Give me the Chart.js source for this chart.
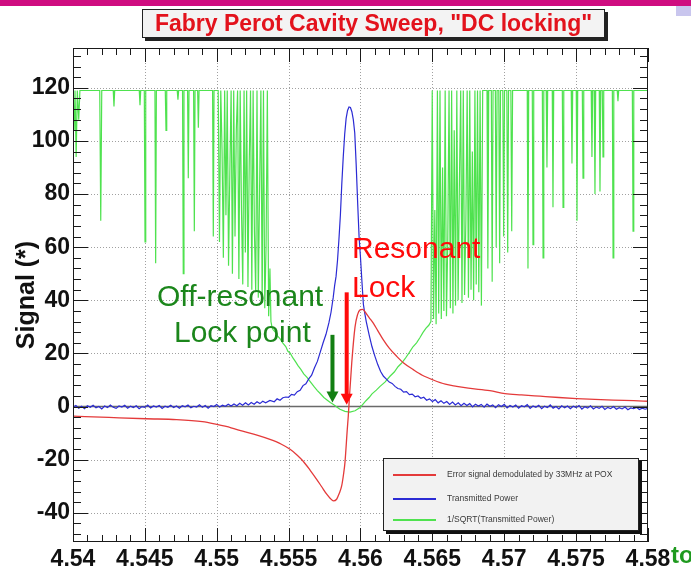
<!DOCTYPE html>
<html lang="en">
<head>
<meta charset="UTF-8">
<title>Fabry Perot Cavity Sweep, "DC locking"</title>
<script src="https://cdn.jsdelivr.net/npm/chart.js"></script>
<style>
  body { margin: 0; background: #fff; font-family: 'Liberation Sans', Arial, sans-serif; }
  .page { position: relative; width: 691px; height: 570px; overflow: hidden; }
  canvas { position: absolute; left: 0; top: 0; }
  .topbar { position: absolute; left: 0; top: 0; width: 691px; height: 6px; background: #cf0d80; }
  .corner { position: absolute; left: 676px; top: 6px; width: 15px; height: 10px; background: #c9c6ee; }
  .title-box {
    position: absolute; left: 142px; top: 9px; width: 461px; height: 27px;
    background: #f3f3f3; border: 1px solid #222; box-shadow: 3px 3px 0 #222;
    color: #e3121c; font-weight: bold; font-size: 23px; line-height: 27px; text-align: center;
    white-space: nowrap;
  }
  .legend {
    position: absolute; left: 383px; top: 458px; width: 254px; height: 71px;
    background: #f2f2f2; border: 1px solid #222; box-shadow: 3px 3px 0 #111;
  }
  .legend .swatch { position: absolute; left: 9px; width: 43px; height: 1.5px; }
  .legend .txt { position: absolute; left: 63px; font-size: 8.5px; line-height: 10px; color: #3a3a3a; white-space: nowrap; }
  .note { position: absolute; font-size: 30px; line-height: 30px; white-space: nowrap; }
  .green { color: #1b861b; }
  .red { color: #ff0a0a; }
  .tail { position: absolute; left: 671px; top: 541px; font-size: 24px; font-weight: bold; color: #1f9a1f; }
</style>
</head>
<body>
<div class="page">
  <canvas id="sweep" width="691" height="570"></canvas>
  <div class="topbar"></div>
  <div class="corner"></div>
  <div class="title-box">Fabry Perot Cavity Sweep, "DC locking"</div>

  <div class="note green" style="left:157px; top:281px;">Off-resonant</div>
  <div class="note green" style="left:174px; top:317px;">Lock point</div>
  <div class="note red" style="left:352px; top:233px;">Resonant</div>
  <div class="note red" style="left:352px; top:272px;">Lock</div>

  <div class="legend" id="legend"></div>
  <div class="tail">to</div>
</div>

<script>
  const xTicks = [4.54, 4.545, 4.55, 4.555, 4.56, 4.565, 4.57, 4.575, 4.58];
  const yTicks = [-40, -20, 0, 20, 40, 60, 80, 100, 120];

  // Error signal (red)
  const errX = [4.5400, 4.5425, 4.5451, 4.5472, 4.5490, 4.5500, 4.5510, 4.5518, 4.5528, 4.5537,
    4.5545, 4.5551, 4.5556, 4.5560, 4.5565, 4.55695, 4.5573, 4.55765, 4.5579, 4.55811,
    4.55834, 4.5585, 4.55869, 4.55882, 4.55892, 4.55908, 4.55915, 4.55922, 4.55939, 4.55962,
    4.55979, 4.55997, 4.56015, 4.56031, 4.5606, 4.56089, 4.5612, 4.56159, 4.5620, 4.56252,
    4.5630, 4.56367, 4.5643, 4.56506, 4.5659, 4.56669, 4.5675, 4.5690, 4.57005, 4.5712,
    4.57249, 4.5738, 4.57504, 4.5763, 4.57757, 4.5790, 4.5800];
  const errY = [-3.6, -4.1, -4.6, -4.9, -5.7, -6.75, -8.0, -9.3, -10.8, -12.4,
    -14.2, -16.1, -18.3, -20.5, -24.0, -27.4, -30.2, -33.0, -34.6, -35.5,
    -34.9, -33.0, -29.9, -25.5, -21.0, -8.6, -3.6, 2.6, 16.4, 30.0,
    34.5, 36.4, 36.6, 35.7, 33.5, 31.4, 28.6, 25.1, 22.0, 18.9,
    16.4, 13.9, 11.8, 10.0, 8.4, 7.6, 6.9, 6.0, 4.9, 4.4,
    3.9, 3.4, 3.0, 2.7, 2.4, 2.2, 2.0];

  // Transmitted power (blue)
  const powX = [4.5400, 4.5402, 4.5404, 4.5406, 4.5408, 4.5410, 4.5412, 4.5414, 4.5416, 4.5418,
    4.5420, 4.5422, 4.5424, 4.5426, 4.5428, 4.5430, 4.5432, 4.5434, 4.5436, 4.5438,
    4.5440, 4.5442, 4.5444, 4.5446, 4.5448, 4.5450, 4.5452, 4.5454, 4.5456, 4.5458,
    4.5460, 4.5462, 4.5464, 4.5466, 4.5468, 4.5470, 4.5472, 4.5474, 4.5476, 4.5478,
    4.5480, 4.5482, 4.5484, 4.5486, 4.5488, 4.5490, 4.5492, 4.5494, 4.5496, 4.5498,
    4.5500, 4.5502, 4.5504, 4.5506, 4.5508, 4.5510, 4.5512, 4.5514, 4.5516, 4.5518,
    4.5520, 4.5522, 4.5524, 4.5526, 4.5528, 4.5530, 4.5532, 4.5534, 4.5537, 4.5540,
    4.5542, 4.5544, 4.5546, 4.5548, 4.5550, 4.5552, 4.5554, 4.5556, 4.5558, 4.5560,
    4.5562, 4.5564, 4.5566, 4.5568, 4.5570, 4.5572, 4.5574, 4.5576, 4.5578, 4.55795,
    4.5581, 4.5582, 4.5583, 4.5584, 4.5585, 4.5586, 4.5587, 4.5588, 4.5589, 4.5590,
    4.5591, 4.5592, 4.5593, 4.5594, 4.5595, 4.5596, 4.5597, 4.5598, 4.5599, 4.5600,
    4.5601, 4.5602, 4.5603, 4.5604, 4.5606, 4.5608, 4.5610, 4.5612, 4.5614, 4.5616,
    4.5618, 4.5620, 4.5622, 4.5624, 4.5626, 4.5628, 4.5630, 4.5632, 4.5634, 4.5636,
    4.5638, 4.5640, 4.5642, 4.5644, 4.5646, 4.5648, 4.5650, 4.5652, 4.5654, 4.5656,
    4.5658, 4.5660, 4.5662, 4.5664, 4.5666, 4.5668, 4.5670, 4.5672, 4.5674, 4.5676,
    4.5678, 4.5680, 4.5682, 4.5684, 4.5686, 4.5688, 4.5690, 4.5692, 4.5694, 4.5696,
    4.5698, 4.5700, 4.5702, 4.5704, 4.5706, 4.5708, 4.5710, 4.5712, 4.5714, 4.5716,
    4.5718, 4.5720, 4.5722, 4.5724, 4.5726, 4.5728, 4.5730, 4.5732, 4.5734, 4.5736,
    4.5738, 4.5740, 4.5742, 4.5744, 4.5746, 4.5748, 4.5750, 4.5752, 4.5754, 4.5756,
    4.5758, 4.5760, 4.5762, 4.5764, 4.5766, 4.5768, 4.5770, 4.5772, 4.5774, 4.5776,
    4.5778, 4.5780, 4.5782, 4.5784, 4.5786, 4.5788, 4.5790, 4.5792, 4.5794, 4.5796,
    4.5798, 4.5800];
  const powY = [-0.2, 0.4, -0.6, 0.1, -0.8, 0.3, -0.3, 0.5, -0.5, 0.0,
    -0.9, 0.2, -0.4, 0.6, -0.3, -0.7, 0.2, -0.2, 0.5, -0.6,
    0.1, -0.4, 0.3, -0.8, 0.0, -0.3, 0.6, -0.5, 0.2, -0.2,
    0.4, -0.7, 0.1, -0.3, 0.5, -0.4, 0.2, -0.6, 0.3, -0.1,
    0.6, -0.5, 0.1, -0.2, 0.7, -0.3, 0.4, -0.6, 0.3, 0.0,
    0.8, -0.2, 0.5, 0.1, 0.9, 0.2, 1.0, 0.3, 1.2, 0.5,
    1.4, 0.6, 1.5, 0.9, 1.8, 1.1, 2.0, 1.4, 2.3, 1.8,
    2.9, 2.4, 3.3, 3.6, 3.5, 4.6, 4.3, 5.6, 6.1, 7.9,
    8.6, 10.4, 11.8, 14.6, 17.0, 20.5, 24.0, 27.2, 31.5, 35.5,
    41.0, 45.5, 49.0, 55.0, 63.0, 72.0, 84.0, 94.0, 102.5, 108.5,
    111.5, 112.8, 112.6, 111.0, 108.0, 103.0, 91.0, 77.0, 64.0, 56.0,
    47.0, 38.5, 35.0, 32.0, 27.0, 22.5, 19.0, 15.8, 13.2, 11.4,
    10.3, 9.2, 8.7, 7.6, 6.8, 6.5, 5.4, 5.6, 4.5, 4.7,
    3.7, 4.0, 3.1, 3.5, 2.4, 2.9, 1.9, 2.6, 1.4, 2.2,
    1.2, 1.9, 0.8, 1.7, 0.6, 1.4, 0.3, 1.2, 0.4, 1.1,
    -0.1, 0.9, 0.2, 0.8, -0.2, 0.9, 0.1, 0.6, -0.4, 0.7,
    0.0, 0.8, -0.5, 0.4, -0.2, 0.6, -0.6, 0.3, -0.1, 0.7,
    -0.7, 0.2, -0.3, 0.5, -0.8, 0.1, -0.4, 0.6, -0.6, 0.0,
    -0.9, 0.3, -0.5, 0.2, -0.8, 0.1, -0.4, 0.4, -1.0, -0.1,
    -0.6, 0.3, -0.9, -0.2, -0.7, 0.1, -1.1, -0.3, -0.8, 0.0,
    -1.0, -0.4, -0.9, -0.2, -1.2, -0.5, -0.8, -0.3, -1.1, -0.6,
    -1.0, -0.7];

  // 1/SQRT(Transmitted Power) (green), saturates at the top of the range
  const invX = [
    // sparse dropouts on the left
    4.54000, 4.54008, 4.54014, 4.54022, 4.54030, 4.54040, 4.54048, 4.54186, 4.54193, 4.54200,
    4.54280, 4.54285, 4.54290, 4.54461, 4.54466, 4.54471, 4.54496, 4.54501, 4.54506, 4.54570,
    4.54575, 4.54580, 4.54642, 4.54647, 4.54652, 4.54725, 4.54730, 4.54735, 4.54762, 4.54767,
    4.54772, 4.54797, 4.54802, 4.54807, 4.54839, 4.54844, 4.54849, 4.54867, 4.54872, 4.54877,
    4.54971, 4.54976, 4.54981, 4.55004,
    // dense band left of resonance
    4.55010, 4.55019, 4.55028, 4.55037, 4.55046, 4.55055, 4.55064, 4.55073, 4.55082, 4.55091,
    4.55100, 4.55109, 4.55118, 4.55127, 4.55136, 4.55145, 4.55154, 4.55163, 4.55172, 4.55181,
    4.55190, 4.55199, 4.55208, 4.55217, 4.55226, 4.55235, 4.55244, 4.55253, 4.55262, 4.55271,
    4.55280, 4.55289, 4.55298, 4.55307, 4.55316, 4.55325, 4.55334, 4.55343, 4.55352, 4.55361,
    4.55370, 4.55377, 4.55384,
    // smooth dip around resonance
    4.55391, 4.55410, 4.55425, 4.55440, 4.55460, 4.55480, 4.55495, 4.55510, 4.55530, 4.55550,
    4.55565, 4.55585, 4.55605, 4.55628, 4.55650, 4.55677, 4.55700, 4.55718, 4.55745, 4.55767,
    4.55790, 4.55809, 4.55835, 4.55857, 4.55892, 4.55927, 4.55962, 4.55997, 4.56038, 4.56060,
    4.56080, 4.56110, 4.56136, 4.56170, 4.56205, 4.56235, 4.56261, 4.56285, 4.56310, 4.56340,
    4.56365, 4.56390, 4.56414, 4.56435, 4.56456, 4.56475, 4.56490,
    // dense band right of resonance
    4.56499, 4.56508, 4.56517, 4.56526, 4.56535, 4.56544, 4.56553, 4.56562, 4.56571, 4.56580,
    4.56589, 4.56598, 4.56607, 4.56616, 4.56625, 4.56634, 4.56643, 4.56652, 4.56661, 4.56670,
    4.56679, 4.56688, 4.56697, 4.56706, 4.56715, 4.56724, 4.56733, 4.56742, 4.56751, 4.56760,
    4.56769, 4.56778, 4.56787, 4.56796, 4.56805, 4.56814, 4.56823, 4.56832,
    4.56841, 4.56850, 4.56880, 4.56886, 4.56892, 4.56910, 4.56916, 4.56922, 4.56938, 4.56944,
    4.56950, 4.56962, 4.56968, 4.56974, 4.56990, 4.56996, 4.57002, 4.57018, 4.57024, 4.57030,
    4.57046, 4.57052, 4.57058,
    // sparse dropouts on the right
    4.57160, 4.57165, 4.57170, 4.57195, 4.57200, 4.57205, 4.57265, 4.57270, 4.57275, 4.57292,
    4.57297, 4.57302, 4.57334, 4.57339, 4.57344, 4.57404, 4.57409, 4.57414, 4.57466, 4.57471,
    4.57476, 4.57501, 4.57506, 4.57511, 4.57543, 4.57548, 4.57553, 4.57605, 4.57610, 4.57615,
    4.57626, 4.57631, 4.57636, 4.57661, 4.57666, 4.57671, 4.57682, 4.57687, 4.57692, 4.57752,
    4.57757, 4.57762, 4.57786, 4.57791, 4.57796, 4.57891, 4.57896, 4.57901, 4.58000];
  const invY = [
    119, 104, 119, 94, 119, 108, 119, 119, 70, 119,
    119, 113, 119, 119, 113.5, 119, 119, 62, 119, 119,
    54, 119, 119, 104, 119, 119, 115.5, 119, 119, 50,
    119, 119, 86, 119, 119, 66, 119, 119, 105, 119,
    119, 64, 119, 119,

    119, 62, 119, 96, 56, 119, 72, 119, 53, 88,
    119, 50, 119, 64, 104, 119, 48, 119, 74, 46,
    119, 58, 119, 45, 92, 119, 44, 119, 66, 43,
    119, 41, 82, 119, 39, 119, 37, 60, 119, 34,
    52, 32, 30,

    29, 27.8, 26.4, 25.6, 23.9, 22.6, 20.8, 20.2, 18.3, 16.7,
    15.4, 14.0, 12.3, 11.0, 9.4, 7.5, 6.0, 5.0, 3.4, 2.5,
    1.5, 0.9, -0.2, -1.0, -1.8, -2.1, -1.6, -0.4, 2.2, 3.4,
    4.8, 6.2, 7.6, 9.2, 11.4, 13.0, 15.0, 16.3, 18.0, 20.4,
    22.5, 24.0, 26.0, 27.9, 29.5, 30.6, 32,

    119, 33, 74, 31, 119, 35, 119, 33, 90, 36,
    119, 34, 62, 119, 37, 119, 35, 104, 38, 119,
    40, 84, 119, 39, 119, 42, 70, 119, 41, 119,
    44, 96, 40, 119, 46, 119, 43, 119,
    38, 119, 119, 52, 119, 119, 47, 119, 119, 60,
    119, 119, 54, 119, 119, 64, 119, 119, 58, 119,
    119, 66, 119,

    119, 52, 119, 119, 61, 119, 119, 56, 119, 119,
    90, 119, 119, 75, 119, 119, 75, 119, 119, 91.5,
    119, 119, 70, 119, 119, 86, 119, 119, 94, 119,
    119, 80, 119, 119, 81, 119, 119, 94, 119, 119,
    56, 119, 119, 115, 119, 119, 66, 119, 119];

  // lock point arrows: x position, tail and tip in signal units
  const arrowX = [4.55805, 4.55904];
  const arrowTop = [27, 43];
  const arrowTip = [1.5, 0.7];

  const seriesNames = ['Error signal demodulated by 33MHz at POX', 'Transmitted Power', '1/SQRT(Transmitted Power)'];
  const seriesColors = ['#e43a3a', '#2b2bd4', '#4fe24f'];
  const arrowColors = ['#137f13', '#ff0a0a'];

  const FONT = "'Liberation Sans', Arial, sans-serif";
  const pts = (xs, ys) => xs.map((x, i) => ({ x: x, y: ys[i] }));

  // ROOT style frame: dotted grid, zero line, ticks on all four sides
  const rootFrame = {
    id: 'rootFrame',
    beforeDatasetsDraw(chart) {
      const { ctx, chartArea: a, scales: { x, y } } = chart;
      ctx.save();
      ctx.strokeStyle = '#a0a0a0';
      ctx.lineWidth = 1;
      ctx.setLineDash([1, 2]);
      ctx.beginPath();
      xTicks.slice(1, -1).forEach(v => {
        const px = Math.round(x.getPixelForValue(v)) + 0.5;
        ctx.moveTo(px, a.top); ctx.lineTo(px, a.bottom);
      });
      yTicks.forEach(v => {
        if (v === 0) return;
        const py = Math.round(y.getPixelForValue(v)) + 0.5;
        ctx.moveTo(a.left, py); ctx.lineTo(a.right, py);
      });
      ctx.stroke();
      ctx.setLineDash([]);
      ctx.strokeStyle = '#6a6a6a';
      ctx.lineWidth = 1.6;
      const y0 = y.getPixelForValue(0);
      ctx.beginPath(); ctx.moveTo(a.left, y0); ctx.lineTo(a.right, y0); ctx.stroke();
      ctx.restore();
    },
    afterDatasetsDraw(chart) {
      const { ctx, chartArea: a, scales: { x, y } } = chart;
      ctx.save();
      ctx.strokeStyle = '#1a1a1a';
      ctx.lineWidth = 1;
      ctx.strokeRect(a.left + 0.5, a.top + 0.5, a.right - a.left - 1, a.bottom - a.top - 1);
      ctx.beginPath();
      for (let i = 0; i <= 40; i++) {
        const px = Math.round(x.getPixelForValue(4.54 + i * 0.001)) + 0.5;
        const len = i % 5 === 0 ? 14 : 7;
        ctx.moveTo(px, a.bottom); ctx.lineTo(px, a.bottom - len);
        ctx.moveTo(px, a.top); ctx.lineTo(px, a.top + len);
      }
      for (let v = -48; v <= 132; v += 4) {
        const py = Math.round(y.getPixelForValue(v)) + 0.5;
        const len = v % 20 === 0 ? 15 : 8;
        ctx.moveTo(a.left, py); ctx.lineTo(a.left + len, py);
        ctx.moveTo(a.right, py); ctx.lineTo(a.right - len, py);
      }
      ctx.stroke();

      arrowX.forEach((v, i) => {
        const px = x.getPixelForValue(v);
        const top = y.getPixelForValue(arrowTop[i]);
        const tip = y.getPixelForValue(arrowTip[i]);
        const head = 11, half = 6, shaft = 2;
        ctx.fillStyle = arrowColors[i];
        ctx.fillRect(px - shaft, top, shaft * 2, tip - head - top + 1);
        ctx.beginPath();
        ctx.moveTo(px - half, tip - head);
        ctx.lineTo(px + half, tip - head);
        ctx.lineTo(px, tip);
        ctx.closePath();
        ctx.fill();
      });
      ctx.restore();
    }
  };

  new Chart(document.getElementById('sweep'), {
    type: 'line',
    data: {
      datasets: [
        { label: seriesNames[0], data: pts(errX, errY), borderColor: seriesColors[0], borderWidth: 1.3, cubicInterpolationMode: 'monotone' },
        { label: seriesNames[1], data: pts(powX, powY), borderColor: seriesColors[1], borderWidth: 1.2 },
        { label: seriesNames[2], data: pts(invX, invY), borderColor: seriesColors[2], borderWidth: 1.2 }
      ]
    },
    options: {
      responsive: false,
      animation: false,
      elements: { point: { radius: 0 } },
      layout: { padding: { top: 48, right: 43, left: 0, bottom: 0 } },
      plugins: { legend: { display: false }, tooltip: { enabled: false } },
      scales: {
        x: {
          type: 'linear', min: 4.54, max: 4.58,
          afterFit: s => { s.height = 28; },
          afterBuildTicks: s => { s.ticks = xTicks.map(v => ({ value: v })); },
          grid: { display: false, drawTicks: false },
          border: { display: false },
          ticks: { autoSkip: false, maxRotation: 0, padding: 4, color: '#111', font: { family: FONT, size: 23, weight: 'bold' }, callback: v => String(v) }
        },
        y: {
          min: -51, max: 135,
          afterFit: s => { s.width = 73; },
          afterBuildTicks: s => { s.ticks = yTicks.map(v => ({ value: v })); },
          grid: { display: false, drawTicks: false },
          border: { display: false },
          ticks: { padding: 3, color: '#111', font: { family: FONT, size: 23, weight: 'bold' } },
          title: { display: true, text: 'Signal (*)', color: '#111', padding: { top: 12, bottom: 0 }, font: { family: FONT, size: 25, weight: 'bold' } }
        }
      }
    },
    plugins: [rootFrame]
  });

  // legend box in the lower right of the frame
  const legend = document.getElementById('legend');
  const rowCenters = [15, 39, 60];
  seriesNames.forEach((name, i) => {
    const sw = document.createElement('div');
    sw.className = 'swatch';
    sw.style.top = rowCenters[i] + 'px';
    sw.style.background = seriesColors[i];
    const t = document.createElement('div');
    t.className = 'txt';
    t.style.top = (rowCenters[i] - 5) + 'px';
    t.textContent = name;
    legend.appendChild(sw);
    legend.appendChild(t);
  });
</script>
</body>
</html>
